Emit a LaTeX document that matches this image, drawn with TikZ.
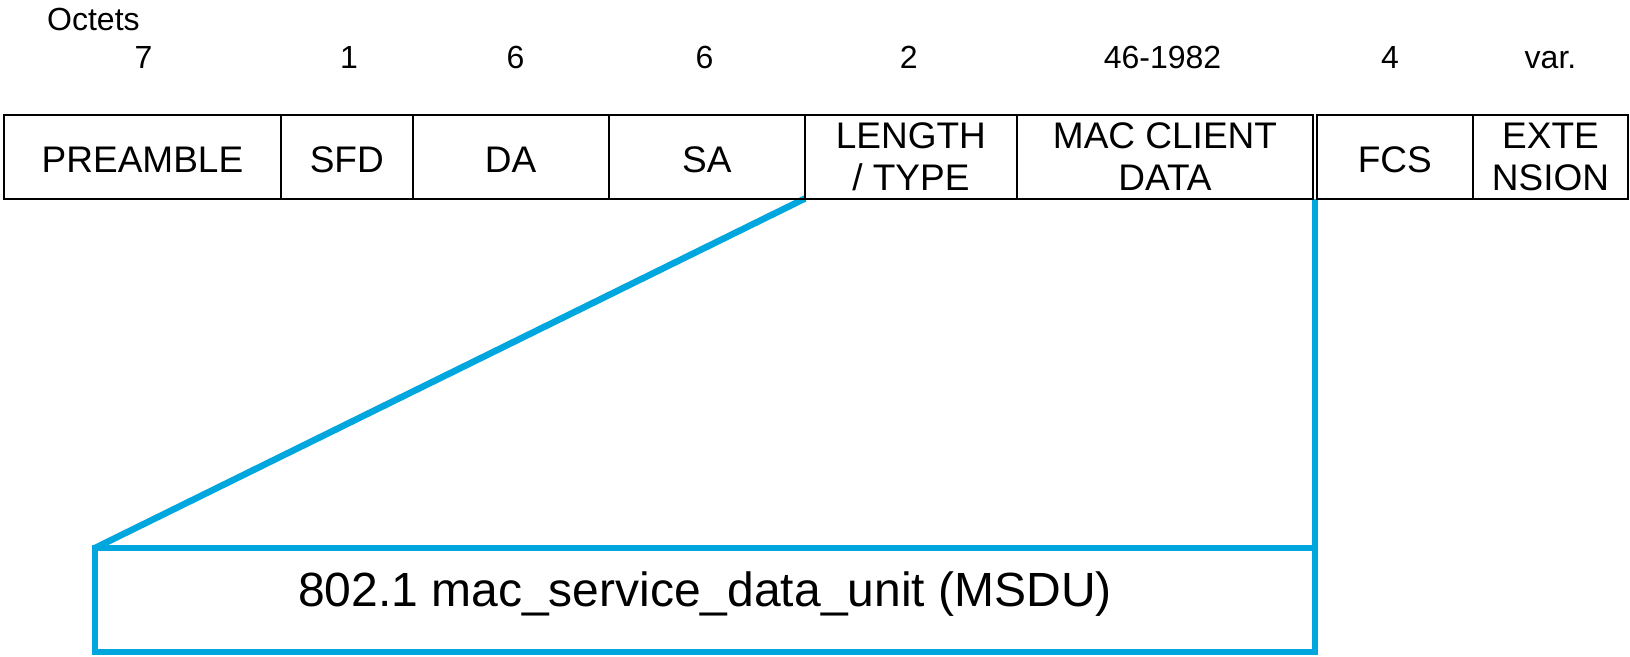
\documentclass[tikz,border=0pt]{standalone}
\usepackage{fontspec}
\setmainfont{Liberation Sans}
\usetikzlibrary{calc}
\definecolor{msdublue}{RGB}{0,166,222}
\newcommand\fieldfont{\fontsize{37}{41.7}\selectfont}
\newcommand\octetfont{\fontsize{32}{36}\selectfont}
\newcommand\msdufont{\fontsize{48}{56}\selectfont}
\pgfdeclarelayer{bg}
\pgfsetlayers{bg,main}
\begin{document}
\begin{tikzpicture}[x=1pt,y=-1pt,
  field/.style={draw=black, line width=2pt, rectangle, minimum height=83.5pt,
    inner sep=0pt, outer sep=0pt, font=\fieldfont, align=center},
  oneline/.style={text height=32pt, text depth=0pt},
  octet/.style={font=\octetfont, anchor=base, inner sep=0pt},
  blueline/.style={draw=msdublue, line width=6.5pt},
  msdubox/.style={blueline, rectangle, inner sep=0pt, outer sep=0pt,
    minimum width=1220pt, minimum height=104pt, font=\msdufont,
    text height=35pt, text depth=21.6pt}]
\useasboundingbox (0,0) rectangle (1630,656);

% octet counts
\node[octet, anchor=base west] (octets) at (47,30.7) {Octets};
\node[octet] (n-pre) at (143.5,68.3) {7};
\node[octet] (n-sfd) at (349,68.3) {1};
\node[octet] (n-da)  at (515.5,68.3) {6};
\node[octet] (n-sa)  at (704.6,68.3) {6};
\node[octet] (n-lt)  at (908.7,68.3) {2};
\node[octet] (n-mac) at (1162.5,68.3) {46-1982};
\node[octet] (n-fcs) at (1390,68.3) {4};
\node[octet] (n-ext) at (1550.5,68.3) {var.};

% frame fields
\node[field, oneline, minimum width=277pt]   (pre) at (142.5,156.75) {PREAMBLE};
\node[field, oneline, minimum width=131.5pt] (sfd) at (346.75,156.75) {SFD};
\node[field, oneline, minimum width=196pt]   (da)  at (510.5,156.75) {DA};
\node[field, oneline, minimum width=196.5pt] (sa)  at (706.75,156.75) {SA};
\node[field, minimum width=211.7pt] (lt)  at (910.85,156.75) {LENGTH\\/ TYPE};
\node[field, minimum width=296.6pt] (mac) at (1165,156.75) {MAC CLIENT\\DATA};
\node[field, oneline, minimum width=156.3pt] (fcs) at (1394.85,156.75) {FCS};
\node[field, minimum width=155pt]   (ext) at (1550.5,156.75) {EXTE\\NSION};

% MSDU expansion
\node[msdubox] (msdu) at (705,600) {802.1 mac\_service\_data\_unit (MSDU)};
\coordinate (macend) at ($(mac.south east)!0.5!(fcs.south west)$);
\begin{pgfonlayer}{bg}
\draw[blueline] (lt.south west) -- (msdu.north west);
\draw[blueline] (macend) -- (msdu.north east);
\end{pgfonlayer}
\end{tikzpicture}
\end{document}
